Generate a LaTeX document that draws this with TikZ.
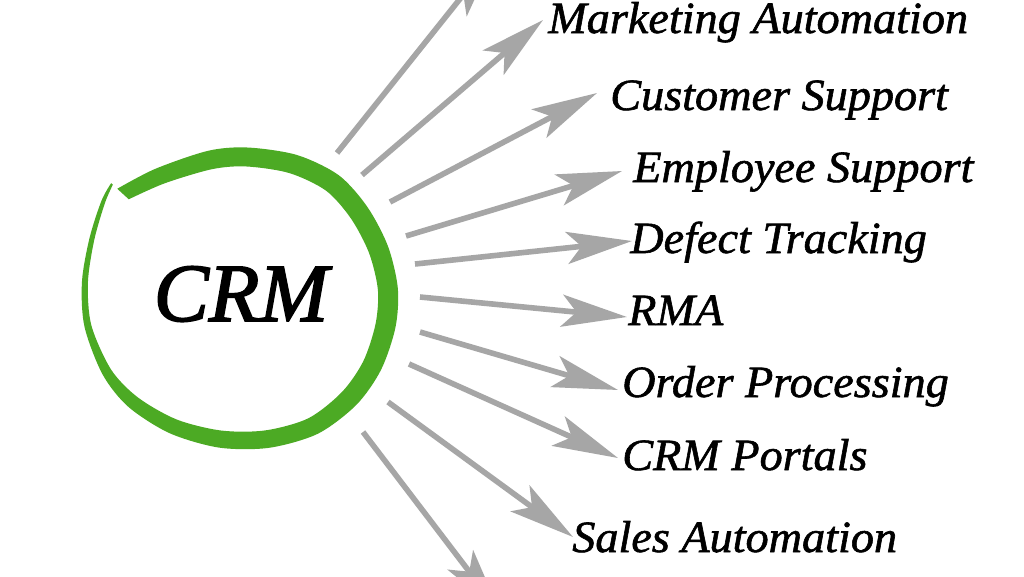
\documentclass[tikz,border=0pt]{standalone}
\usepackage{fontspec}
\setmainfont{Liberation Serif}
\newfontfamily\lblfont[FakeBold=1.3,FakeStretch=1.035]{Liberation Serif}
\newfontfamily\crmfont[FakeBold=2]{Liberation Serif}
\usetikzlibrary{arrows.meta}
\definecolor{arrowgray}{RGB}{166,166,166}
\definecolor{crmgreen}{RGB}{76,170,36}
\begin{document}
\begin{tikzpicture}[x=0.75pt,y=-0.75pt,
  arr/.style={draw=arrowgray, line width=4.2pt, -{Stealth[length=49pt,width=24pt,inset=11pt]}},
  lbl/.style={anchor=base west, inner sep=0pt, font=\lblfont\itshape\fontsize{33.5pt}{40pt}\selectfont},
  crmtext/.style={anchor=base, inner sep=0pt, font=\crmfont\itshape\fontsize{62pt}{72pt}\selectfont}]
\useasboundingbox (0,0) rectangle (1024,576);
\fill[white] (0,0) rectangle (1024,576);
\clip (0,0) rectangle (1024,576);

% hand-drawn green ring
\begin{scope}[shift={(238,299)}, x=0.75pt, y=0.75pt]
\fill[crmgreen] plot[smooth] coordinates {
 (137.6:171.8) (144.3:168.2) (157.7:160.5) (173.7:157) (190.2:156)
 (209.1:155) (224.5:153.8) (243:150.6) (262.7:149.8) (281.7:152)
 (300.6:156.6) (318.2:158.8) (333.6:159.6) (349.7:160) (363.8:160.2)
 (379.4:159) (395.5:158.8) (410.9:159.6) (427.8:155.6) (446.4:151.8)
 (461.4:151.2) (482.4:154.2) (497.6:163.5)}
 -- plot[smooth] coordinates {
 (497.6:147.9) (482.4:137) (461.4:132.4) (446.4:132.8) (427.8:136)
 (410.9:139.6) (395.5:138.7) (379.4:138.9) (363.8:140.2) (349.7:139.8)
 (333.6:139.9) (318.2:139.5) (300.6:138.5) (281.7:134.2) (262.7:132.6)
 (243:135.2) (224.5:140.4) (209.1:145.2) (190.2:149) (173.7:151)
 (157.7:155.4) (144.3:164) (137.6:169.5)} -- cycle;
\end{scope}

\node[crmtext] (crm) at (241,321) {CRM};

% labels
\node[lbl] (mkt) at (548,33) {Marketing Automation};
\node[lbl] (cus) at (610,110) {Customer Support};
\node[lbl] (emp) at (633,182) {Employee Support};
\node[lbl] (def) at (630,253) {Defect Tracking};
\node[lbl] (rma) at (628,325) {RMA};
\node[lbl] (ord) at (622,397) {Order Processing};
\node[lbl] (por) at (622,470) {CRM Portals};
\node[lbl] (sal) at (572,552) {Sales Automation};

% arrow ends
\coordinate (s1) at (337,153);  \coordinate (t1) at (495,-45);
\coordinate (s2) at (362,175);  \coordinate (t2) at (543,20);
\coordinate (s3) at (390,202);  \coordinate (t3) at (597,93);
\coordinate (s4) at (406,236);  \coordinate (t4) at (622,171);
\coordinate (s5) at (415,264);  \coordinate (t5) at (632,241);
\coordinate (s6) at (420,297);  \coordinate (t6) at (627,317);
\coordinate (s7) at (420,332);  \coordinate (t7) at (618,390);
\coordinate (s8) at (409,364);  \coordinate (t8) at (618,458);
\coordinate (s9) at (388,402);  \coordinate (t9) at (573,537);
\coordinate (s10) at (363,432); \coordinate (t10) at (500,612);

\foreach \i in {1,...,10} {
  \draw[arr] (s\i) -- (t\i);
}
\end{tikzpicture}
\end{document}
